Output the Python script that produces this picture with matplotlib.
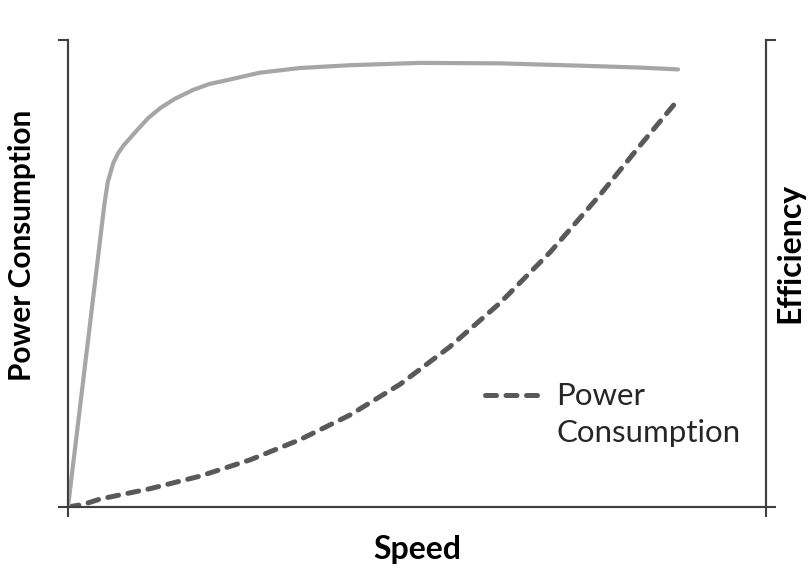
import matplotlib.pyplot as plt
from matplotlib.lines import Line2D

# speed in % of axis range, values in % of axis height
eff_speed = [0, 4.6, 5.2, 5.7, 6.5, 7.2, 8.0, 8.9, 9.9, 11.5, 13.2, 15.3,
             17.9, 20.3, 22.8, 25.4, 27.5, 33.2, 40.4, 50.4, 61.9, 73.4,
             81.9, 87.4]
efficiency = [0, 57.2, 64.7, 69.6, 73.7, 75.8, 77.5, 79.0, 80.7, 83.3, 85.4,
              87.4, 89.3, 90.6, 91.4, 92.3, 93.0, 94.0, 94.6, 95.1, 95.0,
              94.5, 94.1, 93.7]

pow_speed = [0, 2.3, 4.6, 11.7, 18.9, 26.1, 33.2, 40.4, 47.6, 54.7, 61.9,
             69.1, 76.2, 81.9, 87.4]
power = [0, 0.6, 1.7, 3.9, 6.6, 10.1, 14.4, 19.7, 26.3, 34.3, 43.7, 54.6,
         66.8, 77.3, 87.2]

legend_label = 'Power\nConsumption'

plt.rcParams['font.family'] = ['Lato', 'DejaVu Sans']

fig = plt.figure(figsize=(8.09, 5.76), dpi=100)
ax = fig.add_axes([68 / 809, 1 - 507 / 576, 698 / 809, 467 / 576])
ax2 = ax.twinx()

ax2.plot(eff_speed, efficiency, color='#a6a6a6', lw=3, solid_capstyle='round',
         solid_joinstyle='round', zorder=2)
ax.plot(pow_speed, power, color='#595959', lw=3.6, ls=(0, (2.2, 1.9)),
        dash_capstyle='round', zorder=3)

for a in (ax, ax2):
    a.set_xlim(0, 100)
    a.set_ylim(0, 100)
    a.set_xticks([0, 100])
    a.set_yticks([0, 100])
    a.set_xticklabels([])
    a.set_yticklabels([])
    a.tick_params(direction='out', length=7.5, width=1.5, color='#404040')
    a.spines['top'].set_visible(False)
    for s in ('left', 'right', 'bottom'):
        a.spines[s].set_linewidth(1.5)
        a.spines[s].set_color('#404040')

ax.set_xlabel('Speed', fontsize=23, fontweight='bold', va='center')
ax.xaxis.set_label_coords(0.5, -0.092)
ax.set_ylabel('Power Consumption', fontsize=21.4, fontweight='bold',
              va='center')
ax.yaxis.set_label_coords(-0.066, 0.56)
ax2.set_ylabel('Efficiency', fontsize=23, fontweight='bold', va='center')
ax2.yaxis.set_label_coords(1.034, 0.544)

# legend drawn by hand so the dash sits beside the first line
ax.add_line(Line2D([0.597, 0.682], [0.24, 0.24], transform=ax.transAxes,
                   color='#595959', lw=3.6, ls=(0, (2.2, 1.9)),
                   dash_capstyle='round'))
ax.text(0.70, 0.268, legend_label, transform=ax.transAxes, fontsize=22.5,
        va='top', ha='left', color='#262626', linespacing=1.38)

fig.savefig('out.png', dpi=100)
